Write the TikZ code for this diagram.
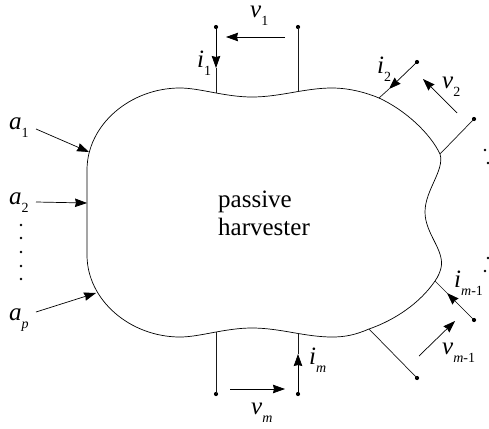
\documentclass[tikz,border=0pt]{standalone}
\usepackage{fontspec}
\setmainfont{Liberation Serif}
\usetikzlibrary{arrows.meta}
\tikzset{
 x=1pt,y=-1pt,
 wire/.style={line width=0.7pt,black!90},
 term/.style={circle,fill=black,inner sep=0pt,minimum size=4.2pt},
 tip/.style={-{Stealth[length=12pt,width=8.5pt,inset=1pt]},line width=0.7pt},
 lab/.style={inner sep=0pt,font=\fontsize{25}{27}\selectfont\itshape,anchor=base west},
 plain/.style={inner sep=0pt,font=\fontsize{25}{27}\selectfont,anchor=base west},
 dotmark/.style={circle,fill=black,inner sep=0pt,minimum size=2.8pt},
}
\newcommand{\sbs}[1]{\raisebox{-8pt}{\fontsize{14}{14}\selectfont #1}}
\newcommand{\up}[1]{\textup{#1}}
\begin{document}
\begin{tikzpicture}
\useasboundingbox (0,0) rectangle (489,428);
\draw[line width=0.7pt] (87,170)
 .. controls (87,125) and (130,88) .. (180,88)
 .. controls (200,88) and (225,97) .. (252,97)
 .. controls (280,97) and (305,88) .. (332,88)
 .. controls (350,88) and (367,93) .. (379,98)
 .. controls (405,110) and (430,133) .. (440,154)
 .. controls (445,170) and (425,190) .. (425,212)
 .. controls (425,234) and (445,250) .. (441,268)
 .. controls (440,272) and (438,277) .. (435,281)
 .. controls (420,303) and (395,320) .. (369,329)
 .. controls (355,335) and (345,337) .. (332,337)
 .. controls (305,337) and (280,328) .. (252,328)
 .. controls (225,328) and (200,337) .. (180,337)
 .. controls (130,337) and (87,300) .. (87,255)
 -- cycle;
% terminals
\node[term] (t1a) at (216,27) {};
\node[term] (t1b) at (298,27) {};
\node[term] (t2a) at (417,62) {};
\node[term] (t2b) at (474,119) {};
\node[term] (t3a) at (474,320) {};
\node[term] (t3b) at (417,378) {};
\node[term] (t4a) at (298,394) {};
\node[term] (t4b) at (216,394) {};
% body contact points
\coordinate (c1a) at (216,93);
\coordinate (c1b) at (298,92);
\coordinate (c2a) at (379,98);
\coordinate (c2b) at (440,154);
\coordinate (c3a) at (435,281);
\coordinate (c3b) at (369,329);
\coordinate (c4a) at (298,333);
\coordinate (c4b) at (216,332);
\draw[wire] (t1b.center) -- (c1b);
\draw[wire] (t2b.center) -- (c2b);
\draw[wire] (t3b.center) -- (c3b);
\draw[wire] (t4b.center) -- (c4b);
% current arrows
\coordinate (h1) at (216,68);
\draw[tip] (t1a.center) -- (h1);
\draw[wire] (h1) -- (c1a);
\coordinate (h2) at (389,89);
\draw[tip] (t2a.center) -- (h2);
\draw[wire] (h2) -- (c2a);
\coordinate (h3) at (447,293);
\draw[tip] (t3a.center) -- (h3);
\draw[wire] (h3) -- (c3a);
\coordinate (h4) at (298,354);
\draw[tip] (t4a.center) -- (h4);
\draw[wire] (h4) -- (c4a);
% voltage arrows
\coordinate (v1s) at (285,37); \coordinate (v1e) at (226,37);
\draw[tip] (v1s) -- (v1e);
\coordinate (v2s) at (457,113); \coordinate (v2e) at (423,79);
\draw[tip] (v2s) -- (v2e);
\coordinate (v3s) at (419,356); \coordinate (v3e) at (455,321);
\draw[tip] (v3s) -- (v3e);
\coordinate (v4s) at (230,389); \coordinate (v4e) at (285,389);
\draw[tip] (v4s) -- (v4e);
% inputs
\coordinate (a1s) at (36,129); \coordinate (a1e) at (89,152);
\draw[tip] (a1s) -- (a1e);
\coordinate (a2s) at (36,202); \coordinate (a2e) at (87,203);
\draw[tip] (a2s) -- (a2e);
\coordinate (a3s) at (36,312); \coordinate (a3e) at (96,293);
\draw[tip] (a3s) -- (a3e);
% labels
\node[lab] (lv1) at (250,18) {v\sbs{\up{1}}};
\node[lab] (li1) at (197,67) {i\sbs{\up{1}}};
\node[lab] (li2) at (377,73) {i\sbs{\up{2}}};
\node[lab] (lv2) at (442,88) {v\sbs{\up{2}}};
\node[lab] (lim1) at (454,287) {i\sbs{m\up{-1}}};
\node[lab] (lvm1) at (442,354) {v\sbs{m\up{-1}}};
\node[lab] (lim) at (309,364) {i\sbs{m}};
\node[lab] (lvm) at (251,414) {v\sbs{m}};
\node[lab] (la1) at (9,129) {a\sbs{\up{1}}};
\node[lab] (la2) at (9,204) {a\sbs{\up{2}}};
\node[lab] (lap) at (9,320) {a\sbs{p}};
\node[plain] (pa) at (218,207) {passive};
\node[plain] (ha) at (218,235) {harvester};
% dots
\node[dotmark] (d1) at (21,225) {};
\node[dotmark] (d2) at (21,238) {};
\node[dotmark] (d3) at (21,252) {};
\node[dotmark] (d4) at (21,266) {};
\node[dotmark] (d5) at (21,279) {};
\node[dotmark] (r1) at (485,150) {};
\node[dotmark] (r2) at (488,163) {};
\node[dotmark] (r3) at (488,258) {};
\node[dotmark] (r4) at (485,271) {};
\end{tikzpicture}
\end{document}
